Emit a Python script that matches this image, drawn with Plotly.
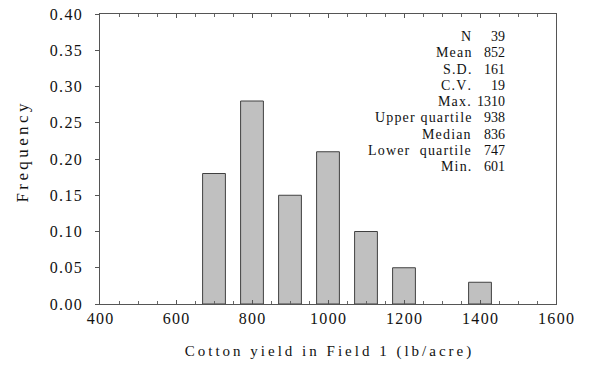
import plotly.graph_objects as go

bin_centers = [700, 800, 900, 1000, 1100, 1200, 1400]
frequency = [0.18, 0.28, 0.15, 0.21, 0.10, 0.05, 0.03]

x_ticks = [400, 600, 800, 1000, 1200, 1400, 1600]
y_ticks = [0.00, 0.05, 0.10, 0.15, 0.20, 0.25, 0.30, 0.35, 0.40]

stat_labels = ["N", "Mean", "S.D.", "C.V.", "Max.", "Upper quartile", "Median", "Lower  quartile", "Min."]
stat_values = ["39", "852", "161", "19", "1310", "938", "836", "747", "601"]

FONT = "Liberation Serif, Times New Roman, serif"
THIN = "\u2009"
HAIR = "\u200a"


def spaced(s, sep):
    return sep.join(list(s))


fig = go.Figure()
fig.add_trace(go.Bar(
    x=bin_centers, y=frequency, width=60,
    marker=dict(color="#c0c0c0", line=dict(color="#404040", width=1)),
))

annotations = []
y0 = 0.9217
dy = 16.25 / 290
for i, (lab, val) in enumerate(zip(stat_labels, stat_values)):
    yy = y0 - i * dy
    annotations.append(dict(xref="paper", yref="paper", x=0.818, y=yy, text=spaced(lab, HAIR),
                            xanchor="right", yanchor="middle", showarrow=False,
                            font=dict(family=FONT, size=14, color="#111")))
    annotations.append(dict(xref="paper", yref="paper", x=0.8925, y=yy, text=val,
                            xanchor="right", yanchor="middle", showarrow=False,
                            font=dict(family=FONT, size=14, color="#111")))

# y-axis title placed as rotated annotation
annotations.append(dict(xref="paper", yref="paper", x=-0.171, y=0.519,
                        text=spaced("Frequency", THIN), textangle=-90,
                        xanchor="center", yanchor="middle", showarrow=False,
                        font=dict(family=FONT, size=17, color="#111")))

fig.update_layout(
    width=590, height=366,
    margin=dict(l=100, r=34, t=14, b=62),
    plot_bgcolor="white", paper_bgcolor="white",
    showlegend=False,
    font=dict(family=FONT, size=15, color="#111"),
    annotations=annotations,
    xaxis=dict(
        range=[400, 1600], tickvals=x_ticks,
        ticktext=[spaced(str(v), HAIR) for v in x_ticks],
        automargin=False,
        showgrid=False, zeroline=False,
        showline=True, linecolor="#555", linewidth=1, mirror="ticks",
        ticks="inside", ticklen=4, tickcolor="#555",
        minor=dict(dtick=50, ticks="inside", ticklen=3, tickcolor="#666"),
        title=dict(text=spaced("Cotton yield in Field 1 (lb/acre)", THIN), font=dict(size=15), standoff=19),
        tickfont=dict(size=16),
    ),
    yaxis=dict(
        range=[0, 0.40], tickvals=y_ticks,
        ticktext=[spaced(f"{v:.2f}", HAIR) for v in y_ticks],
        automargin=False,
        showgrid=False, zeroline=False,
        showline=True, linecolor="#555", linewidth=1, mirror=True,
        ticks="outside", ticklen=4, tickcolor="#555",
        ticklabelstandoff=10,
        tickfont=dict(size=16),
    ),
)

fig.write_html("out.html")
